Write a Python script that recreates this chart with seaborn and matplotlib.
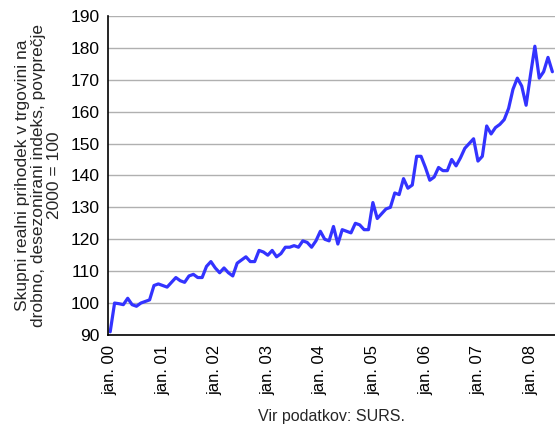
import matplotlib
matplotlib.use("Agg")
import matplotlib.pyplot as plt
import seaborn as sns
import numpy as np
import pandas as pd

values = [
    91, 100, 99.8, 99.5, 101.5, 99.5, 99, 100, 100.5, 101, 105.5, 106,
    105.5, 105, 106.5, 108, 107, 106.5, 108.5, 109, 108, 108, 111.5, 113,
    111, 109.5, 111, 109.5, 108.5, 112.5, 113.5, 114.5, 113, 113, 116.5, 116,
    115, 116.5, 114.5, 115.5, 117.5, 117.5, 118, 117.5, 119.5, 119, 117.5, 119.5,
    122.5, 120, 119.5, 124, 118.5, 123, 122.5, 122, 125, 124.5, 123, 123,
    131.5, 126.5, 128, 129.5, 130, 134.5, 134, 139, 136, 137, 146, 146,
    142.5, 138.5, 139.5, 142.5, 141.5, 141.5, 145, 143, 145.5, 148.5, 150, 151.5,
    144.5, 146, 155.5, 153, 155, 156, 157.5, 161, 167, 170.5, 168, 162,
    171.5, 180.5, 170.5, 172.5, 177, 172.5,
]
tick_labels = ["jan. 00", "jan. 01", "jan. 02", "jan. 03", "jan. 04",
               "jan. 05", "jan. 06", "jan. 07", "jan. 08"]
y_ticks = [90, 100, 110, 120, 130, 140, 150, 160, 170, 180, 190]

df = pd.DataFrame({"t": np.arange(len(values)), "v": values})

sns.set_theme(style="white")
plt.rcParams["font.family"] = ["Liberation Sans", "DejaVu Sans"]

fig = plt.figure(figsize=(5.55, 4.30), dpi=100)
ax = fig.add_axes([0.195, 0.221, 0.805, 0.742])
sns.lineplot(data=df, x="t", y="v", ax=ax, color="#3333ff", linewidth=2.3)

ax.set_ylim(90, 190)
ax.set_yticks(y_ticks)
ax.set_yticklabels([str(v) for v in y_ticks], fontsize=12.5)
ax.set_xlim(-0.45, 101.6)
ax.set_xticks(np.arange(0, 97, 12))
ax.set_xticklabels(tick_labels, rotation=90, fontsize=12)
ax.tick_params(axis="y", length=0, pad=6, colors="black")
ax.tick_params(axis="x", length=0, pad=7, colors="black")
ax.yaxis.grid(True, color="#b0b0b0", linewidth=1)
ax.xaxis.grid(False)
for s in ["top", "right"]:
    ax.spines[s].set_visible(False)
for s in ["left", "bottom"]:
    ax.spines[s].set_color("black")
    ax.spines[s].set_linewidth(1.2)

ax.set_ylabel("Skupni realni prihodek v trgovini na\ndrobno, desezonirani indeks, povprečje\n2000 = 100",
              fontsize=12.5, linespacing=1.1, labelpad=6)
ax.set_xlabel("Vir podatkov: SURS.", fontsize=11.5, labelpad=10)

fig.savefig("out.png", dpi=100)
